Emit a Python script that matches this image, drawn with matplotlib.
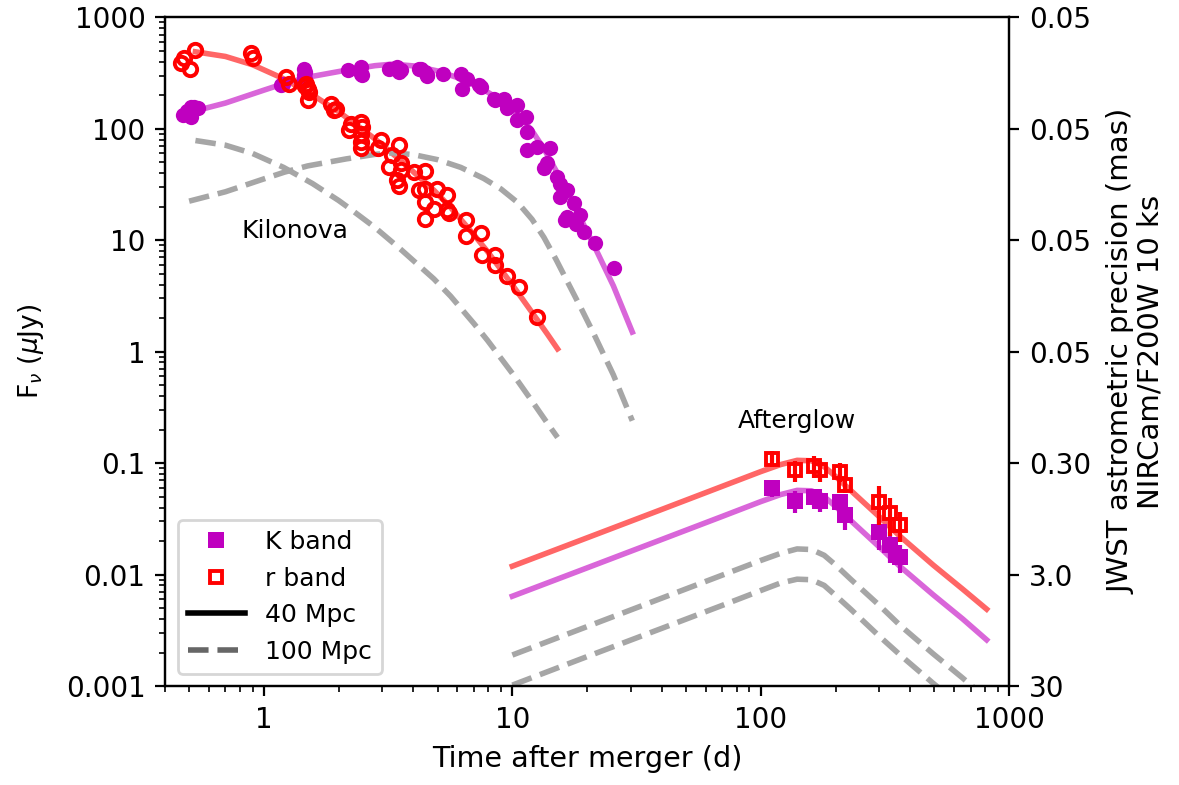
import matplotlib
matplotlib.use("Agg")
import matplotlib.pyplot as plt
from matplotlib.lines import Line2D

plt.rcParams.update({
    "font.family": "DejaVu Sans",
    "font.size": 10,
    "mathtext.fontset": "dejavusans",
})

# kilonova photometry (t in days, flux in uJy)
r_kn_t = [0.464, 0.478, 0.506, 0.53, 0.886, 0.90, 1.226, 1.26, 1.47, 1.50, 1.52, 1.48,
          1.50, 1.86, 1.95, 1.91, 2.20, 2.24, 2.45, 2.47, 2.47, 2.47, 2.49, 2.87, 2.95,
          3.19, 3.29, 3.49, 3.55, 3.55, 3.44, 3.49, 4.01, 4.47, 4.21, 4.47, 4.47, 4.98,
          5.47, 4.84, 5.47, 5.55, 4.47, 6.49, 7.45, 6.49, 7.56, 8.55, 8.55, 9.55, 10.6, 12.6]
r_kn_f = [385, 435, 342, 506, 479, 435, 292, 254, 240, 225, 215, 250,
          180, 168, 150, 147, 97, 111, 115, 90.6, 76, 66.5, 104, 66.5, 79,
          45.5, 58, 71, 49, 42.5, 34.6, 30.5, 41, 41.5, 28, 29, 22, 29,
          25.3, 19.2, 18.6, 17.4, 15.6, 15.1, 11.6, 10.9, 7.3, 7.3, 6.0, 4.8, 3.8, 2.05]
k_kn_t = [0.471, 0.509, 0.509, 0.525, 0.541, 0.49, 1.17, 1.19, 1.45, 1.45, 1.47, 1.47, 1.45,
          2.17, 2.45, 2.45, 2.49, 3.19, 3.44, 3.49, 3.55, 4.21, 4.28, 4.47, 4.54, 4.54, 5.24,
          6.19, 6.29, 6.59, 7.35, 7.45, 8.4, 8.55, 9.25, 9.25, 9.55, 10.45, 10.45, 11.3,
          11.5, 11.5, 12.6, 13.4, 13.8, 14.2, 15.1, 15.6, 15.6, 16.6, 17.7, 16.3, 16.6,
          18.0, 18.8, 19.4, 21.6, 25.6]
k_kn_f = [132, 128, 157, 157, 155, 145, 246, 254, 347, 302, 324, 282, 272,
          335, 359, 313, 302, 347, 359, 324, 335, 347, 347, 324, 296, 302, 313,
          313, 229, 282, 246, 237, 186, 180, 186, 180, 152, 163, 119, 128,
          94, 64, 69, 44, 49, 66.5, 37, 32, 24.5, 28, 21.4, 15.2, 16.2,
          14.1, 16.8, 11.9, 9.5, 5.6]

# kilonova models, 40 and 100 Mpc
r_mod_t = [0.53, 0.7, 0.9, 1.2, 1.57, 2.0, 2.24, 2.8, 3.55, 4.83, 5.64, 7.0, 7.95, 10.1, 12.0, 13.8, 15.2]
r_mod_40 = [490, 445, 375, 281, 201, 142, 118, 81, 52, 28.1, 19.7, 11.2, 7.9, 3.85, 2.25, 1.45, 1.06]
r_mod_100 = [78.4, 71.2, 60, 45, 32.2, 22.7, 18.9, 13, 8.3, 4.5, 3.15, 1.79, 1.26, 0.62, 0.36, 0.23, 0.17]
k_mod_t = [0.5, 0.7, 1.0, 1.21, 1.5, 2.14, 2.8, 3.3, 4.0, 5.0, 6.2, 7.67, 9.0, 10.5, 12.0, 13.4,
           15.0, 16.7, 19.0, 21.2, 25.5, 30.4]
k_mod_40 = [140, 170, 222, 255, 290, 335, 368, 380, 366, 330, 281, 224, 180, 136, 96, 66,
            42, 26, 15, 9.2, 3.9, 1.5]
k_mod_100 = [22.4, 27.2, 35.5, 40.8, 46.4, 53.6, 58.9, 60.8, 58.6, 52.8, 45, 35.8, 28.8, 21.8, 15.4, 10.6,
             6.7, 4.2, 2.4, 1.47, 0.62, 0.24]

# afterglow models
ag_t = [10, 20, 40, 70, 100, 120, 140, 160, 180, 200, 230, 300, 364, 494, 650, 811]
ag_r_40 = [0.0119, 0.0214, 0.0385, 0.062, 0.084, 0.097, 0.106, 0.105, 0.093, 0.076, 0.057,
           0.033, 0.022, 0.0122, 0.0074, 0.0049]
ag_k_40 = [0.0064, 0.0115, 0.0207, 0.0333, 0.0452, 0.0522, 0.057, 0.0565, 0.050, 0.0409, 0.0306,
           0.0177, 0.0118, 0.0066, 0.0040, 0.0026]
ag_r_100 = [0.0019, 0.00342, 0.00616, 0.0099, 0.0134, 0.0155, 0.017, 0.0168, 0.0149, 0.0122, 0.0091,
            0.0053, 0.0035, 0.00195, 0.00118, 0.00077]
ag_k_100 = [0.00102, 0.00184, 0.0033, 0.0053, 0.0072, 0.0084, 0.0091, 0.0090, 0.0080, 0.0065, 0.0049,
            0.0028, 0.0019, 0.00106, 0.00064, 0.00042]

# afterglow photometry
ag_obs_t = [111, 137, 163, 173, 209, 219, 300, 330, 362]
ag_r_f = [0.110, 0.0865, 0.0942, 0.0865, 0.0837, 0.0635, 0.045, 0.0354, 0.0278]
ag_r_err = [0.018, 0.019, 0.021, 0.019, 0.016, 0.010, 0.017, 0.0134, 0.0083]
ag_k_f = [0.0593, 0.0459, 0.0494, 0.0459, 0.0448, 0.0345, 0.0242, 0.0184, 0.0144]
ag_k_err = [0.0095, 0.0102, 0.009, 0.0094, 0.0074, 0.0093, 0.0077, 0.0058, 0.0041]

xticks = [1, 10, 100, 1000]
xtick_labels = ["1", "10", "100", "1000"]
yticks = [1000, 100, 10, 1, 0.1, 0.01, 0.001]
ytick_labels = ["1000", "100", "10", "1", "0.1", "0.01", "0.001"]
right_labels = ["0.05", "0.05", "0.05", "0.05", "0.30", "3.0", "30"]

PURPLE, RED = "m", "red"
PURPLE_LINE, RED_LINE, GRAY = "#d966d9", "#ff6666", "#a6a6a6"

fig = plt.figure(figsize=(5.895, 3.925), dpi=200)
ax = fig.add_axes([0.140, 0.126, 0.716, 0.852])

ax.plot(r_mod_t, r_mod_40, color=RED_LINE, lw=2, zorder=2)
ax.plot(k_mod_t, k_mod_40, color=PURPLE_LINE, lw=2, zorder=2)
ax.plot(r_mod_t, r_mod_100, color=GRAY, lw=2, ls="--", zorder=2)
ax.plot(k_mod_t, k_mod_100, color=GRAY, lw=2, ls="--", zorder=2)
ax.plot(ag_t, ag_r_40, color=RED_LINE, lw=2, zorder=2)
ax.plot(ag_t, ag_k_40, color=PURPLE_LINE, lw=2, zorder=2)
ax.plot(ag_t, ag_r_100, color=GRAY, lw=2, ls="--", zorder=2)
ax.plot(ag_t, ag_k_100, color=GRAY, lw=2, ls="--", zorder=2)

ax.plot(k_kn_t, k_kn_f, "o", color=PURPLE, ms=5.5, mew=0, zorder=3)
ax.plot(r_kn_t, r_kn_f, "o", mfc="none", mec=RED, ms=4.8, mew=1.4, zorder=4)

ax.errorbar(ag_obs_t, ag_k_f, yerr=ag_k_err, fmt="s", color=PURPLE, ms=5.5, mew=0,
            elinewidth=1.5, capsize=0, zorder=3)
ax.errorbar(ag_obs_t, ag_r_f, yerr=ag_r_err, fmt="s", color=RED, mfc="none", mec=RED,
            ms=4.6, mew=1.4, elinewidth=1.5, capsize=0, zorder=4)

ax.text(0.816, 12.0, "Kilonova", ha="left", va="center", fontsize=9)
ax.text(140, 0.238, "Afterglow", ha="center", va="center", fontsize=9)

ax.set_xscale("log")
ax.set_yscale("log")
ax.set_xlim(0.4, 1000)
ax.set_ylim(0.001, 1000)
ax.set_xticks(xticks)
ax.set_xticklabels(xtick_labels)
ax.set_yticks(yticks)
ax.set_yticklabels(ytick_labels)
ax.set_xlabel("Time after merger (d)", fontsize=10.3)
ax.set_ylabel(r"F$_\nu$ ($\mu$Jy)", fontsize=9.5, labelpad=7)

ax2 = ax.twinx()
ax2.set_yscale("log")
ax2.set_ylim(0.001, 1000)
ax2.set_yticks(yticks)
ax2.set_yticklabels(right_labels)
ax2.yaxis.set_minor_locator(matplotlib.ticker.NullLocator())
ax2.set_ylabel("JWST astrometric precision (mas)\nNIRCam/F200W 10 ks",
               fontsize=10.5, linespacing=1.05, labelpad=6)

handles = [
    Line2D([], [], ls="none", marker="s", color=PURPLE, ms=5.5, mew=0),
    Line2D([], [], ls="none", marker="s", mfc="white", mec=RED, ms=4.6, mew=1.4),
    Line2D([], [], color="black", lw=2),
    Line2D([], [], color="#666666", lw=2, ls="--"),
]
ax.legend(handles, ["K band", "r band", "40 Mpc", "100 Mpc"], loc="lower left", fontsize=9,
          handlelength=2.3)

fig.savefig("out.png", dpi=200)
